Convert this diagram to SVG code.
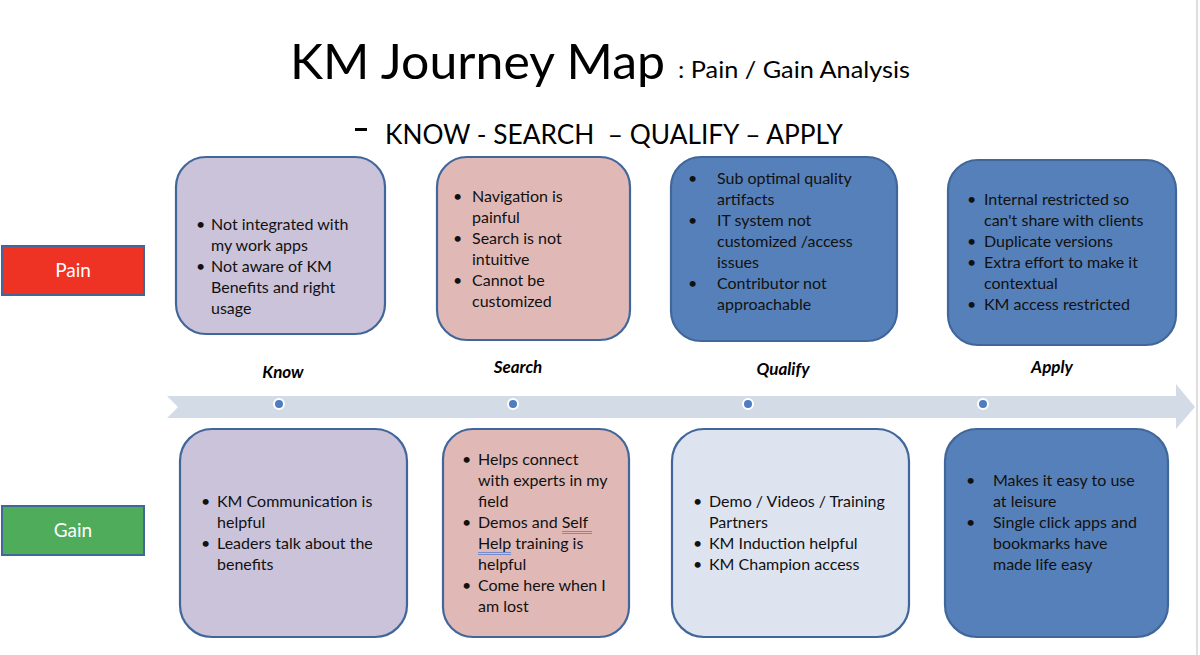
<svg xmlns="http://www.w3.org/2000/svg" width="1200" height="655" viewBox="0 0 1200 655">
<style>
.box{stroke:#41679a;stroke-width:2.2}
.lav{fill:#cbc3da}
.pink{fill:#e0b9b7}
.blue{fill:#5680b9}
.lblue{fill:#dde4ef}
.t{font-family:Lato,"Liberation Sans",sans-serif;font-size:16px;fill:#111}
.ph{font-family:Lato,"Liberation Sans",sans-serif;font-size:17px;font-weight:bold;font-style:italic;fill:#000}
.lab{font-family:Lato,"Liberation Sans",sans-serif;font-size:19px;fill:#fff}
.dot{fill:#4f7bc0;stroke:#fff;stroke-width:2}
</style>
<rect width="1200" height="655" fill="#fff"/>
<line x1="1197" y1="0" x2="1197" y2="655" stroke="#dedede" stroke-width="2"/>

<g id="title">
<text x="290" y="79" font-family="Lato,'Liberation Sans',sans-serif" font-size="48" fill="#000" textLength="375" lengthAdjust="spacingAndGlyphs">KM Journey Map</text>
<text x="678" y="78" font-family="Lato,'Liberation Sans',sans-serif" font-size="23" fill="#000" textLength="232" lengthAdjust="spacingAndGlyphs">: Pain / Gain Analysis</text>
<rect x="355" y="128" width="12" height="3" fill="#000"/>
<text x="385" y="144" font-family="Lato,'Liberation Sans',sans-serif" font-size="26" fill="#000" textLength="458" lengthAdjust="spacingAndGlyphs" xml:space="preserve">KNOW - SEARCH  – QUALIFY – APPLY</text>
</g>

<g id="timeline">
<path d="M167,396 L1176,396 L1176,384 L1195,407 L1176,429 L1176,418 L167,418 L178,407 Z" fill="#d3dbe7"/>
<circle class="dot" cx="279" cy="404" r="5"/>
<circle class="dot" cx="513" cy="404" r="5"/>
<circle class="dot" cx="748" cy="404" r="5"/>
<circle class="dot" cx="983" cy="404" r="5"/>
<text class="ph" x="283" y="378" text-anchor="middle">Know</text>
<text class="ph" x="518" y="373" text-anchor="middle">Search</text>
<text class="ph" x="783" y="375" text-anchor="middle">Qualify</text>
<text class="ph" x="1052" y="373" text-anchor="middle">Apply</text>
</g>

<g id="pain-label">
<rect x="2" y="246" width="142" height="49" fill="#ee3224" stroke="#41679a" stroke-width="2"/>
<text class="lab" x="73" y="277" text-anchor="middle">Pain</text>
</g>
<g id="gain-label">
<rect x="2" y="506" width="142" height="49" fill="#4fac5b" stroke="#41679a" stroke-width="2"/>
<text class="lab" x="73" y="537" text-anchor="middle">Gain</text>
</g>

<g id="know-pain">
<rect class="box lav" x="176" y="157" width="209" height="177" rx="30"/>
<text class="t"><tspan x="196" y="230">•</tspan><tspan x="211" y="230">Not integrated with</tspan><tspan x="211" y="251">my work apps</tspan><tspan x="196" y="272">•</tspan><tspan x="211" y="272">Not aware of KM</tspan><tspan x="211" y="293">Benefits and right</tspan><tspan x="211" y="314">usage</tspan></text>
</g>

<g id="search-pain">
<rect class="box pink" x="437" y="157" width="193" height="183" rx="30"/>
<text class="t"><tspan x="453" y="202">•</tspan><tspan x="472" y="202">Navigation is</tspan><tspan x="472" y="223">painful</tspan><tspan x="453" y="244">•</tspan><tspan x="472" y="244">Search is not</tspan><tspan x="472" y="265">intuitive</tspan><tspan x="453" y="286">•</tspan><tspan x="472" y="286">Cannot be</tspan><tspan x="472" y="307">customized</tspan></text>
</g>

<g id="qualify-pain">
<rect class="box blue" x="671" y="157" width="226" height="184" rx="30"/>
<text class="t"><tspan x="688" y="184">•</tspan><tspan x="717" y="184">Sub optimal quality</tspan><tspan x="717" y="205">artifacts</tspan><tspan x="688" y="226">•</tspan><tspan x="717" y="226">IT system not</tspan><tspan x="717" y="247">customized /access</tspan><tspan x="717" y="268">issues</tspan><tspan x="688" y="289">•</tspan><tspan x="717" y="289">Contributor not</tspan><tspan x="717" y="310">approachable</tspan></text>
</g>

<g id="apply-pain">
<rect class="box blue" x="948" y="160" width="228" height="185" rx="30"/>
<text class="t"><tspan x="967" y="205">•</tspan><tspan x="984" y="205">Internal restricted so</tspan><tspan x="984" y="226">can't share with clients</tspan><tspan x="967" y="247">•</tspan><tspan x="984" y="247">Duplicate versions</tspan><tspan x="967" y="268">•</tspan><tspan x="984" y="268">Extra effort to make it</tspan><tspan x="984" y="289">contextual</tspan><tspan x="967" y="310">•</tspan><tspan x="984" y="310">KM access restricted</tspan></text>
</g>

<g id="know-gain">
<rect class="box lav" x="180" y="429" width="227" height="208" rx="32"/>
<text class="t"><tspan x="201" y="507">•</tspan><tspan x="217" y="507">KM Communication is</tspan><tspan x="217" y="528">helpful</tspan><tspan x="201" y="549">•</tspan><tspan x="217" y="549">Leaders talk about the</tspan><tspan x="217" y="570">benefits</tspan></text>
</g>

<g id="search-gain">
<rect class="box pink" x="443" y="429" width="186" height="208" rx="30"/>
<text class="t"><tspan x="462" y="465">•</tspan><tspan x="478" y="465">Helps connect</tspan><tspan x="478" y="486">with experts in my</tspan><tspan x="478" y="507">field</tspan><tspan x="462" y="528">•</tspan><tspan x="478" y="528">Demos and Self</tspan><tspan x="478" y="549">Help training is</tspan><tspan x="478" y="570">helpful</tspan><tspan x="462" y="591">•</tspan><tspan x="478" y="591">Come here when I</tspan><tspan x="478" y="612">am lost</tspan></text>
<g stroke="#5a7fd0" stroke-width="0.8">
<line x1="562" y1="531.5" x2="592" y2="531.5"/><line x1="562" y1="533.5" x2="592" y2="533.5"/>
<line x1="478" y1="552.5" x2="511" y2="552.5"/><line x1="478" y1="554.5" x2="511" y2="554.5"/>
</g>
</g>

<g id="qualify-gain">
<rect class="box lblue" x="672" y="429" width="237" height="208" rx="32"/>
<text class="t"><tspan x="693" y="507">•</tspan><tspan x="709" y="507">Demo / Videos / Training</tspan><tspan x="709" y="528">Partners</tspan><tspan x="693" y="549">•</tspan><tspan x="709" y="549">KM Induction helpful</tspan><tspan x="693" y="570">•</tspan><tspan x="709" y="570">KM Champion access</tspan></text>
</g>

<g id="apply-gain">
<rect class="box blue" x="945" y="429" width="223" height="208" rx="32"/>
<text class="t"><tspan x="966" y="486">•</tspan><tspan x="993" y="486">Makes it easy to use</tspan><tspan x="993" y="507">at leisure</tspan><tspan x="966" y="528">•</tspan><tspan x="993" y="528">Single click apps and</tspan><tspan x="993" y="549">bookmarks have</tspan><tspan x="993" y="570">made life easy</tspan></text>
</g>
</svg>
